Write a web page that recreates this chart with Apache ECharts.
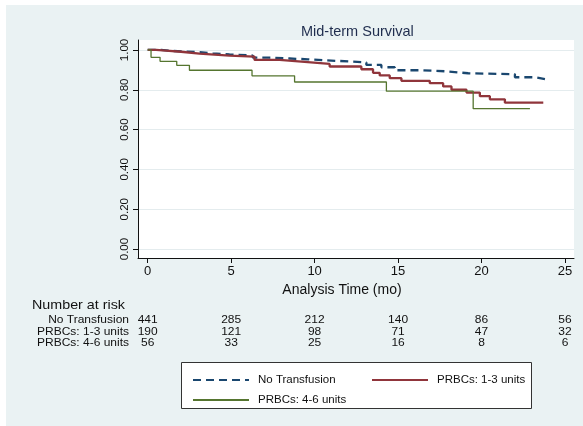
<!DOCTYPE html>
<html>
<head>
<meta charset="utf-8">
<script src="https://cdn.jsdelivr.net/npm/echarts@6/dist/echarts.min.js"></script>
<style>html,body{margin:0;padding:0;background:#fff}#c{width:583px;height:426px}</style>
</head>
<body>
<div id="c"></div>
<script>
// ---- Data ----
const groups = ['No Transfusion', 'PRBCs: 1-3 units', 'PRBCs: 4-6 units'];
const xTicks = [0, 5, 10, 15, 20, 25];
const yTicks = [0, 0.2, 0.4, 0.6, 0.8, 1.0];

const noTxTime = [0, 0.8, 1.5, 2.9, 3.9, 4.9, 6.3, 7.3, 8.5, 9.6, 10.6, 12.2, 13.1, 14.0, 14.8, 16.5, 17.8, 19.2, 22.0, 23.2, 23.8];
const noTxSurv = [1.0, 0.995, 0.99, 0.983, 0.978, 0.972, 0.961, 0.957, 0.953, 0.948, 0.942, 0.937, 0.925, 0.913, 0.898, 0.893, 0.883, 0.878, 0.863, 0.853, 0.853];

const r13Time = [0, 0.5, 1.1, 2.0, 3.1, 4.9, 6.4, 7.9, 9.4, 10.9, 12.8, 13.5, 13.9, 14.5, 15.2, 16.9, 17.7, 18.2, 19.1, 19.9, 20.5, 21.4, 23.7];
const r13Surv = [1.0, 0.997, 0.991, 0.982, 0.972, 0.967, 0.95, 0.94, 0.93, 0.917, 0.903, 0.885, 0.872, 0.858, 0.845, 0.833, 0.817, 0.80, 0.786, 0.768, 0.752, 0.735, 0.735];

const r46Time = [0, 0.2, 0.74, 1.74, 2.5, 6.25, 8.8, 14.3, 19.5, 22.9];
const r46Surv = [1.0, 0.963, 0.943, 0.923, 0.898, 0.87, 0.839, 0.793, 0.705, 0.705];

const riskTimes = [0, 5, 10, 15, 20, 25];
const riskNoTx = [441, 285, 212, 140, 86, 56];
const riskR13 = [190, 121, 98, 71, 47, 32];
const riskR46 = [56, 33, 25, 16, 8, 6];

// ---- Chart ----
const FONT = '"Liberation Sans", Arial, Helvetica, sans-serif';
const zip = (a, b) => a.map((t, i) => [t, b[i]]);
const chart = echarts.init(document.getElementById('c'));

const gridL = 138, gridR = 9, gridT = 40, gridB = 168;

chart.setOption({
  animation: false,
  backgroundColor: '#eaf2f3',
  textStyle: { fontFamily: FONT },
  title: {
    text: 'Mid-term Survival',
    left: 296, top: 19,
    textStyle: { fontSize: 14.5, fontWeight: 'normal', color: '#1f2d4e', fontFamily: FONT }
  },
  grid: {
    left: gridL, right: gridR, top: gridT, bottom: gridB,
    show: true, backgroundColor: '#ffffff', borderWidth: 0
  },
  xAxis: {
    type: 'value', min: -0.581, max: 25.54,
    name: 'Analysis Time (mo)', nameLocation: 'middle', nameGap: 21,
    nameTextStyle: { fontSize: 14, color: '#111', padding: [0, 28, 0, 0], fontFamily: FONT },
    axisLine: { show: true, onZero: false, lineStyle: { color: '#111', width: 1 } },
    axisTick: { show: true, customValues: xTicks, length: 5, lineStyle: { color: '#111' } },
    axisLabel: { customValues: xTicks, fontSize: 13, color: '#111', margin: 7, fontFamily: FONT },
    splitLine: { show: false }
  },
  yAxis: {
    type: 'value', min: -0.045, max: 1.05,
    axisLine: { show: true, onZero: false, lineStyle: { color: '#111', width: 1 } },
    axisTick: { show: true, customValues: yTicks, length: 5, lineStyle: { color: '#111' } },
    axisLabel: { customValues: yTicks, rotate: 90, fontSize: 11.5, color: '#111', margin: 7,
      formatter: v => v.toFixed(2), fontFamily: FONT },
    splitLine: { show: true, lineStyle: { color: '#e4ecee', width: 1 } }
  },
  legend: [0, 1, 2].map(i => ({
    data: [groups[i]],
    left: i === 1 ? 366 : 187,
    top: i === 2 ? 389 : 369,
    itemWidth: 56, itemHeight: 12,
    itemStyle: { opacity: 0 },
    textStyle: { fontSize: 11.5, color: '#111', padding: [0, 0, 0, 4], fontFamily: FONT },
    selectedMode: false
  })),
  series: [
    { name: groups[0], type: 'line', step: 'end', symbol: 'none', showSymbol: false,
      data: zip(noTxTime, noTxSurv),
      lineStyle: { color: '#1a476f', width: 2.3, type: [8, 5] }, itemStyle: { color: '#1a476f' } },
    { name: groups[1], type: 'line', step: 'end', symbol: 'none', showSymbol: false,
      data: zip(r13Time, r13Surv),
      lineStyle: { color: '#90353b', width: 2.3 }, itemStyle: { color: '#90353b' } },
    { name: groups[2], type: 'line', step: 'end', symbol: 'none', showSymbol: false,
      data: zip(r46Time, r46Surv),
      lineStyle: { color: '#55752f', width: 1.3 }, itemStyle: { color: '#55752f' } }
  ]
});

// ---- Graphics: frame strips, legend box, number-at-risk table ----
const gfx = [
  { type: 'rect', z: -10, silent: true, shape: { x: 0, y: 0, width: 583, height: 5 }, style: { fill: '#ffffff' } },
  { type: 'rect', z: -10, silent: true, shape: { x: 0, y: 0, width: 6, height: 426 }, style: { fill: '#ffffff' } },
  { type: 'rect', z: 1, silent: true, shape: { x: 181.5, y: 362.5, width: 350, height: 46 },
    style: { fill: '#ffffff', stroke: '#333', lineWidth: 1 } },
  { type: 'text', z: 5, x: 32, y: 305, scaleX: 1.1, style: { text: 'Number at risk', fontSize: 13, fill: '#111',
    fontFamily: FONT, verticalAlign: 'middle' } }
];
const rows = [riskNoTx, riskR13, riskR46];
const rowY = [320, 331.5, 343];
rows.forEach((vals, r) => {
  gfx.push({ type: 'text', z: 5, x: 129, y: rowY[r], scaleX: 1.09, style: { text: groups[r], fontSize: 11, fill: '#111',
    fontFamily: FONT, align: 'right', verticalAlign: 'middle' } });
  vals.forEach((v, k) => {
    const px = chart.convertToPixel({ xAxisIndex: 0 }, riskTimes[k]);
    gfx.push({ type: 'text', z: 5, x: px, y: rowY[r], scaleX: 1.09, style: { text: String(v), fontSize: 11, fill: '#111',
      fontFamily: FONT, align: 'center', verticalAlign: 'middle' } });
  });
});
chart.setOption({ graphic: gfx });
</script>
</body>
</html>
